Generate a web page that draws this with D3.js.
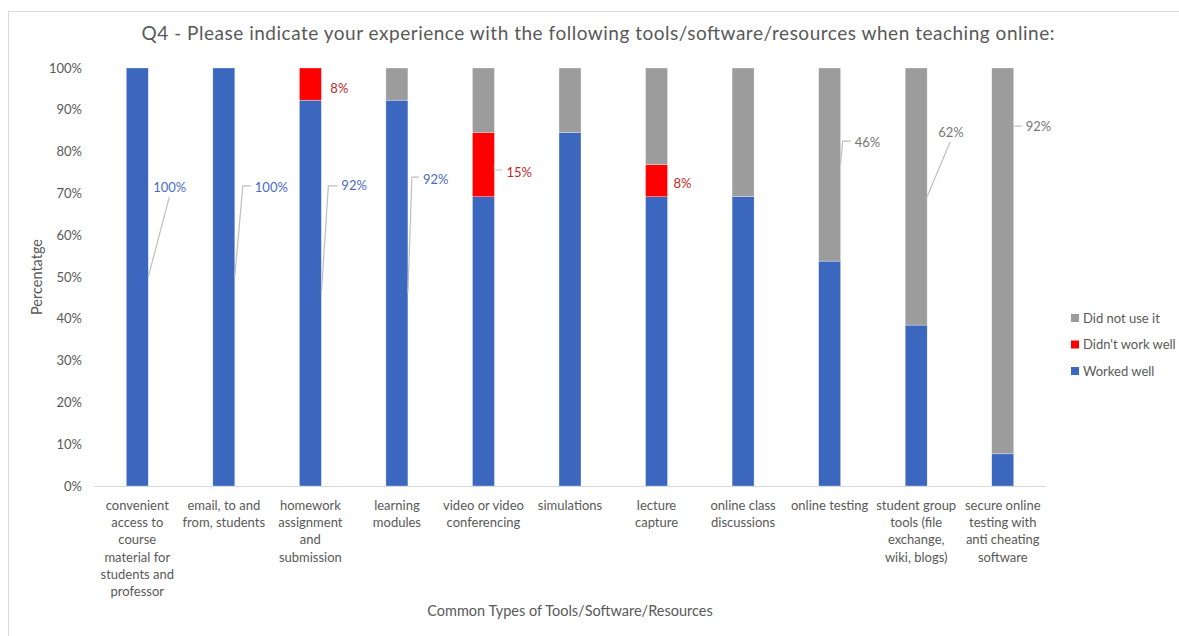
<!DOCTYPE html>
<html>
<head>
<meta charset="utf-8">
<script src="https://cdn.jsdelivr.net/npm/d3@7"></script>
<style>
  body { margin: 0; background: #fff; }
  text { font-family: Lato, "Open Sans", sans-serif; }
</style>
</head>
<body>
<div id="chart"></div>
<script>
const categories = [
  "convenient\naccess to\ncourse\nmaterial for\nstudents and\nprofessor",
  "email, to and\nfrom, students",
  "homework\nassignment\nand\nsubmission",
  "learning\nmodules",
  "video or video\nconferencing",
  "simulations",
  "lecture\ncapture",
  "online class\ndiscussions",
  "online testing",
  "student group\ntools (file\nexchange,\nwiki, blogs)",
  "secure online\ntesting with\nanti cheating\nsoftware"
];
const seriesNames = ["Worked well", "Didn't work well", "Did not use it"];
const workedWell  = [100, 100, 92.3, 92.3, 69.2, 84.6, 69.2, 69.2, 53.8, 38.5, 7.7];
const didntWork   = [0, 0, 7.7, 0, 15.4, 0, 7.7, 0, 0, 0, 0];
const didNotUse   = [0, 0, 0, 7.7, 15.4, 15.4, 23.1, 30.8, 46.2, 61.5, 92.3];
const yTicks = [0, 10, 20, 30, 40, 50, 60, 70, 80, 90, 100];

// labels that the original shows: category index, series index, text
const labelData = [
  [0, 0, "100%"], [1, 0, "100%"], [2, 0, "92%"], [2, 1, "8%"], [3, 0, "92%"],
  [4, 1, "15%"], [6, 1, "8%"], [8, 2, "46%"], [9, 2, "62%"], [10, 2, "92%"]
];
// placement of each label (dx from bar edge, label y in %, leader elbow)
const labelPlace = [
  {dx: 5,  y: 71.5, ex: 21, ey: 69.1, tick: false},
  {dx: 20, y: 71.5, ex: 8,  ey: 71.8, tick: true},
  {dx: 20, y: 72.0, ex: 7,  ey: 71.8, tick: true},
  {dx: 9,  y: 95.2, ex: null},
  {dx: 15, y: 73.4, ex: 4,  ey: 73.9, tick: true},
  {dx: 12, y: 75.1, ex: 0,  ey: 75.6, tick: true},
  {dx: 6,  y: 72.5, ex: null},
  {dx: 14, y: 82.3, ex: 2,  ey: 82.5, tick: true},
  {dx: 11, y: 84.7, ex: 23, ey: 82.3, tick: false},
  {dx: 12, y: 85.9, ex: 0,  ey: 86.1, tick: true, tickOnly: true}
];

const colors = ["#3B68BE", "#FF0000", "#9C9C9C"];
const labelColors = ["#4A6CC0", "#C0282A", "#767676"];

const width = 1179,
      height = 636;

const svg = d3.select("#chart")
  .append("svg")
    .attr("width", width)
    .attr("height", height);

// chart frame
svg.append("rect")
    .attr("x", 8.5)
    .attr("y", 11.5)
    .attr("width", 1300)
    .attr("height", 800)
    .attr("fill", "none")
    .attr("stroke", "#d9d9d9");

const x = d3.scaleBand()
    .domain(d3.range(categories.length))
    .range([94, 1046])
    .paddingInner(0.746)
    .paddingOuter(0.373);

const y = d3.scaleLinear()
    .domain([0, 100])
    .range([486, 68]);

const rows = categories.map((c, i) => ({
  i: i,
  s0: workedWell[i],
  s1: didntWork[i],
  s2: didNotUse[i]
}));

const stacked = d3.stack().keys(["s0", "s1", "s2"])(rows);

svg.append("g")
  .selectAll("g")
  .data(stacked)
  .join("g")
    .attr("fill", (d, k) => colors[k])
  .selectAll("rect")
  .data(d => d)
  .join("rect")
    .attr("x", d => x(d.data.i))
    .attr("y", d => y(Math.min(d[1], 100)))
    .attr("width", x.bandwidth())
    .attr("height", d => y(d[0]) - y(Math.min(d[1], 100)))
    .attr("stroke", "#fff")
    .attr("stroke-width", 0.5)
    .attr("stroke-opacity", 0.6);

// y axis (labels only)
const yAxis = svg.append("g")
    .attr("transform", "translate(82,0)")
    .call(d3.axisLeft(y).tickValues(yTicks).tickSize(0).tickPadding(0).tickFormat(d => d + "%"));
yAxis.select(".domain").remove();
yAxis.selectAll("text")
    .attr("fill", "#595959")
    .style("font-size", "13px")
    .style("font-family", "Lato, sans-serif");

// x axis line
svg.append("line")
    .attr("x1", 94)
    .attr("x2", 1046)
    .attr("y1", y(0) + 0.5)
    .attr("y2", y(0) + 0.5)
    .attr("stroke", "#d9d9d9");

// category labels
svg.append("g")
  .selectAll("text")
  .data(categories)
  .join("text")
    .attr("text-anchor", "middle")
    .attr("fill", "#595959")
    .style("font-size", "13px")
    .attr("transform", (d, i) => `translate(${x(i) + x.bandwidth() / 2}, 510)`)
  .selectAll("tspan")
  .data(d => d.split("\n"))
  .join("tspan")
    .attr("x", 0)
    .attr("y", (d, j) => j * 17.2)
    .text(d => d);

// data labels with leader lines
const lab = svg.append("g");
labelData.forEach((d, n) => {
  const [i, s, txt] = d;
  const p = labelPlace[n];
  const seg = stacked[s][i];
  const edge = x(i) + x.bandwidth();
  const ly = y(p.y);
  if (p.ex !== null) {
    const pts = p.tickOnly ? [[edge, y(p.ey)]] : [[edge, y((seg[0] + seg[1]) / 2)], [edge + p.ex, y(p.ey)]];
    if (p.tick) pts.push([edge + p.dx - 4, y(p.ey)]);
    lab.append("path")
        .attr("d", d3.line()(pts))
        .attr("fill", "none")
        .attr("stroke", "#bfbfbf")
        .attr("stroke-width", 1.2);
  }
  lab.append("text")
      .attr("x", edge + p.dx)
      .attr("y", ly)
      .attr("dy", "0.35em")
      .attr("fill", labelColors[s])
      .style("font-size", "13px")
      .text(txt);
});

// title
svg.append("text")
    .attr("x", 598)
    .attr("y", 40)
    .attr("text-anchor", "middle")
    .attr("fill", "#595959")
    .style("font-size", "19px")
    .attr("textLength", 913)
    .text("Q4 - Please indicate your experience with the following tools/software/resources when teaching online:");

// axis titles
svg.append("text")
    .attr("transform", `translate(42, ${y(50)}) rotate(-90)`)
    .attr("text-anchor", "middle")
    .attr("fill", "#595959")
    .style("font-size", "14.5px")
    .text("Percentatge");

svg.append("text")
    .attr("x", 570)
    .attr("y", 616)
    .attr("text-anchor", "middle")
    .attr("fill", "#595959")
    .style("font-size", "14.5px")
    .text("Common Types of Tools/Software/Resources");

// legend (reverse order like the original)
const legend = svg.append("g")
  .selectAll("g")
  .data([2, 1, 0])
  .join("g")
    .attr("transform", (d, k) => `translate(1071, ${318 + k * 26.5})`);

legend.append("rect")
    .attr("x", 0)
    .attr("y", -4)
    .attr("width", 8)
    .attr("height", 8)
    .attr("fill", d => colors[d]);

legend.append("text")
    .attr("x", 12)
    .attr("dy", "0.35em")
    .attr("fill", "#595959")
    .style("font-size", "13px")
    .text(d => seriesNames[d]);
</script>
</body>
</html>
